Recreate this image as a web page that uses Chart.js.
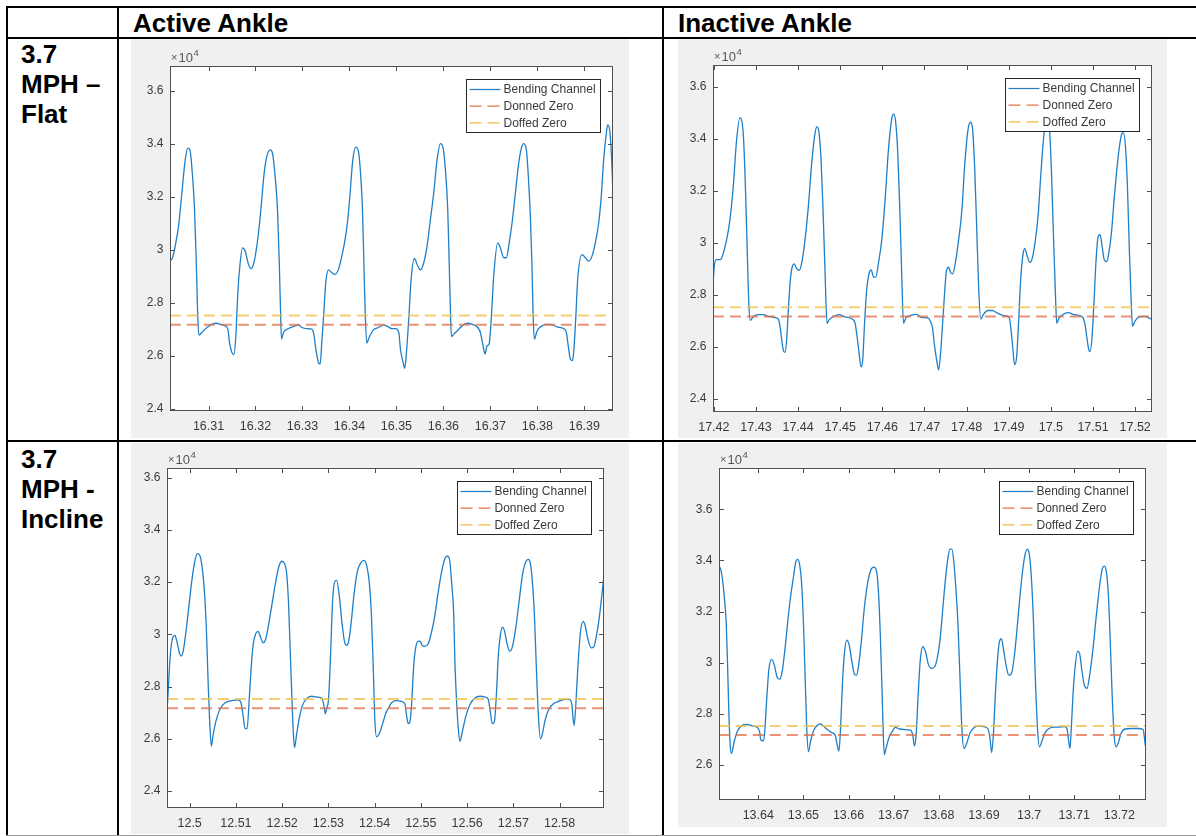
<!DOCTYPE html>
<html>
<head>
<meta charset="utf-8">
<script src="https://cdn.jsdelivr.net/npm/chart.js@4.4.1/dist/chart.umd.min.js"></script>
<style>
body { margin: 0; background: #fff; width: 1196px; height: 836px; position: relative; overflow: hidden; font-family: "Liberation Sans", Arial, sans-serif; }
.rule { position: absolute; background: #000; }
.cell { position: absolute; font-weight: bold; font-size: 26px; line-height: 30px; color: #000; white-space: nowrap; }
.fig { position: absolute; background: #f0f0f0; }
</style>
</head>
<body>
<div class="rule" style="left:6px;top:6px;width:1190px;height:2px"></div>
<div class="rule" style="left:6px;top:37px;width:1190px;height:2px"></div>
<div class="rule" style="left:6px;top:440px;width:1190px;height:2px"></div>
<div class="rule" style="left:6px;top:6px;width:2px;height:830px"></div>
<div class="rule" style="left:117px;top:6px;width:2px;height:830px"></div>
<div class="rule" style="left:662px;top:6px;width:2px;height:830px"></div>
<div class="rule" style="left:6px;top:835px;width:1190px;height:1px;background:#999"></div>

<div class="cell" style="left:133px;top:8px">Active Ankle</div>
<div class="cell" style="left:678px;top:8px">Inactive Ankle</div>
<div class="cell" style="left:21px;top:39px">3.7<br>MPH –<br>Flat</div>
<div class="cell" style="left:21px;top:444px">3.7<br>MPH -<br>Incline</div>

<canvas id="c1" class="fig" width="498" height="399" style="left:131px;top:39px"></canvas>
<canvas id="c2" class="fig" width="489" height="399" style="left:678px;top:39px"></canvas>
<canvas id="c3" class="fig" width="498" height="391" style="left:131px;top:443px"></canvas>
<canvas id="c4" class="fig" width="489" height="384" style="left:678px;top:443px"></canvas>

<script>
// [time (s), bending channel reading]
const flatActive = [
  [16.30177, 29570], [16.30234, 29700], [16.30291, 30140], [16.30362, 30890], [16.30433, 32140],
  [16.30504, 33390], [16.30560, 33830], [16.30603, 33770], [16.30660, 32770], [16.30702, 31520],
  [16.30738, 29640], [16.30766, 27760], [16.30794, 26780], [16.30858, 26880], [16.30965, 27070],
  [16.31071, 27190], [16.31156, 27230], [16.31248, 27190], [16.31355, 27130], [16.31411, 27010],
  [16.31447, 26500], [16.31496, 26130], [16.31539, 26050], [16.31582, 26750], [16.31624, 28380],
  [16.31667, 29390], [16.31723, 30070], [16.31780, 29950], [16.31851, 29450], [16.31908, 29290],
  [16.31957, 29450], [16.32007, 29890], [16.32064, 30640], [16.32121, 31640], [16.32177, 32770],
  [16.32241, 33520], [16.32312, 33770], [16.32362, 33640], [16.32418, 32770], [16.32468, 31520],
  [16.32504, 29640], [16.32532, 27760], [16.32553, 26630], [16.32596, 26880], [16.32702, 27030],
  [16.32844, 27130], [16.32915, 27160], [16.32986, 27070], [16.33092, 27030], [16.33199, 27010],
  [16.33248, 26750], [16.33284, 26250], [16.33340, 25750], [16.33376, 25690], [16.33411, 26500],
  [16.33454, 27630], [16.33496, 28760], [16.33553, 29240], [16.33624, 29140], [16.33695, 29070],
  [16.33766, 29260], [16.33837, 29760], [16.33908, 30390], [16.33964, 31140], [16.34014, 32140],
  [16.34071, 33390], [16.34135, 33870], [16.34191, 33710], [16.34241, 32770], [16.34277, 31520],
  [16.34305, 29640], [16.34333, 27760], [16.34369, 26480], [16.34418, 26690], [16.34511, 26980],
  [16.34617, 27070], [16.34723, 27160], [16.34794, 27130], [16.34901, 27030], [16.34979, 27030],
  [16.35050, 26880], [16.35085, 26250], [16.35142, 25750], [16.35177, 25530], [16.35213, 26130],
  [16.35262, 27380], [16.35312, 28880], [16.35383, 29670], [16.35454, 29390], [16.35511, 29240],
  [16.35582, 29510], [16.35652, 30140], [16.35723, 31140], [16.35794, 32140], [16.35865, 33390],
  [16.35936, 34000], [16.35993, 33830], [16.36043, 33020], [16.36092, 31520], [16.36121, 29640],
  [16.36149, 27760], [16.36170, 26730], [16.36220, 26820], [16.36291, 26940], [16.36397, 27130],
  [16.36504, 27230], [16.36610, 27190], [16.36730, 27070], [16.36787, 26880], [16.36844, 26380],
  [16.36887, 26070], [16.36929, 26380], [16.36972, 26440], [16.37014, 27260], [16.37071, 29010],
  [16.37156, 30260], [16.37213, 30070], [16.37284, 29700], [16.37340, 29700], [16.37390, 30140],
  [16.37461, 31010], [16.37532, 32140], [16.37603, 33270], [16.37660, 33830], [16.37709, 34000],
  [16.37766, 33770], [16.37808, 32770], [16.37851, 31260], [16.37886, 29390], [16.37908, 27630],
  [16.37936, 26630], [16.37993, 26940], [16.38099, 27130], [16.38206, 27190], [16.38312, 27180],
  [16.38418, 27090], [16.38560, 27030], [16.38617, 26880], [16.38667, 26250], [16.38702, 25880],
  [16.38745, 25820], [16.38773, 26130], [16.38816, 27380], [16.38858, 28880], [16.38950, 29820],
  [16.39021, 29700], [16.39092, 29570], [16.39163, 29760], [16.39234, 30260], [16.39305, 31010],
  [16.39355, 31890], [16.39411, 33390], [16.39468, 34400], [16.39496, 34710], [16.39539, 34520],
  [16.39567, 33900], [16.39596, 32770], [16.39624, 31010]
];

const flatInactive = [
  [17.41978, 28320], [17.42010, 29090], [17.42058, 29350], [17.42121, 29350], [17.42169, 29370],
  [17.42224, 29600], [17.42303, 30110], [17.42382, 30880], [17.42461, 32160], [17.42540, 33950],
  [17.42620, 34810], [17.42659, 34720], [17.42707, 33950], [17.42754, 31910], [17.42794, 29600],
  [17.42834, 27550], [17.42865, 27020], [17.42937, 27170], [17.43055, 27240], [17.43174, 27240],
  [17.43293, 27170], [17.43451, 27130], [17.43531, 27070], [17.43571, 26790], [17.43610, 26280],
  [17.43657, 25830], [17.43689, 25790], [17.43729, 26280], [17.43768, 27430], [17.43816, 28580],
  [17.43863, 29090], [17.43911, 29190], [17.43958, 29030], [17.44022, 28940], [17.44085, 29220],
  [17.44164, 30110], [17.44243, 31390], [17.44323, 33060], [17.44402, 34210], [17.44449, 34460],
  [17.44497, 34210], [17.44545, 33180], [17.44592, 31270], [17.44640, 28830], [17.44687, 26910],
  [17.44735, 27040], [17.44838, 27170], [17.44972, 27240], [17.45115, 27150], [17.45289, 27070],
  [17.45352, 26910], [17.45400, 26400], [17.45447, 25760], [17.45495, 25230], [17.45534, 25510],
  [17.45574, 26790], [17.45622, 28070], [17.45685, 28830], [17.45732, 28960], [17.45796, 28680],
  [17.45843, 28680], [17.45907, 29220], [17.45986, 30110], [17.46065, 31650], [17.46144, 33570],
  [17.46224, 34780], [17.46271, 34940], [17.46319, 34590], [17.46366, 33440], [17.46414, 31270],
  [17.46461, 28710], [17.46501, 26910], [17.46557, 27110], [17.46659, 27200], [17.46817, 27250],
  [17.46936, 27130], [17.47094, 27110], [17.47158, 26910], [17.47184, 26790], [17.47240, 26020],
  [17.47287, 25510], [17.47335, 25120], [17.47382, 25760], [17.47430, 26910], [17.47477, 28070],
  [17.47525, 28960], [17.47572, 29060], [17.47620, 28860], [17.47667, 28810], [17.47731, 29220],
  [17.47810, 30110], [17.47889, 31270], [17.47952, 32930], [17.48032, 34340], [17.48095, 34630],
  [17.48143, 34340], [17.48190, 32930], [17.48238, 30630], [17.48285, 28320], [17.48333, 27070],
  [17.48396, 27240], [17.48507, 27400], [17.48610, 27400], [17.48729, 27300], [17.48887, 27200],
  [17.49006, 27150], [17.49045, 26790], [17.49085, 26150], [17.49140, 25310], [17.49188, 25630],
  [17.49236, 27040], [17.49283, 28580], [17.49331, 29470], [17.49378, 29780], [17.49441, 29470],
  [17.49505, 29240], [17.49568, 29470], [17.49632, 30110], [17.49695, 31010], [17.49758, 32540],
  [17.49822, 33950], [17.49877, 34720], [17.49925, 34850], [17.49964, 34460], [17.50012, 32800],
  [17.50059, 30370], [17.50107, 28070], [17.50138, 26910], [17.50194, 27110], [17.50313, 27270],
  [17.50408, 27320], [17.50551, 27240], [17.50749, 27150], [17.50804, 26910], [17.50851, 26400],
  [17.50899, 25890], [17.50930, 25820], [17.50978, 26400], [17.51026, 27810], [17.51073, 29350],
  [17.51121, 30240], [17.51168, 30310], [17.51216, 29860], [17.51263, 29370], [17.51326, 29280],
  [17.51374, 29600], [17.51437, 30370], [17.51500, 31650], [17.51564, 32800], [17.51627, 33700],
  [17.51690, 34210], [17.51722, 34230], [17.51770, 33700], [17.51817, 32160], [17.51865, 29600],
  [17.51905, 27810], [17.51936, 26790], [17.51992, 26980], [17.52095, 27150], [17.52213, 27170],
  [17.52332, 27110], [17.52419, 27040]
];

const inclineActive = [
  [12.49509, 26960], [12.49538, 27920], [12.49581, 29200], [12.49639, 29900], [12.49682, 29960],
  [12.49726, 29710], [12.49783, 29260], [12.49827, 29170], [12.49870, 29450], [12.49928, 30220],
  [12.49986, 31110], [12.50043, 32000], [12.50108, 32770], [12.50166, 33090], [12.50217, 33030],
  [12.50274, 32510], [12.50325, 31490], [12.50361, 30220], [12.50397, 28300], [12.50433, 26640],
  [12.50469, 25720], [12.50505, 26130], [12.50563, 26640], [12.50635, 27050], [12.50722, 27310],
  [12.50830, 27430], [12.50938, 27470], [12.51047, 27490], [12.51105, 27410], [12.51155, 26900],
  [12.51199, 26390], [12.51242, 26390], [12.51285, 27410], [12.51329, 28690], [12.51372, 29600],
  [12.51430, 30030], [12.51480, 30110], [12.51531, 29900], [12.51588, 29670], [12.51646, 29830],
  [12.51704, 30340], [12.51776, 31110], [12.51848, 31880], [12.51920, 32540], [12.51993, 32800],
  [12.52050, 32710], [12.52094, 32390], [12.52137, 31240], [12.52173, 29450], [12.52209, 27660],
  [12.52245, 26130], [12.52267, 25660], [12.52310, 26130], [12.52368, 26770], [12.52440, 27280],
  [12.52527, 27540], [12.52635, 27630], [12.52744, 27600], [12.52852, 27560], [12.52903, 27280],
  [12.52932, 26960], [12.52960, 27150], [12.53004, 27540], [12.53047, 29200], [12.53090, 31240],
  [12.53134, 32000], [12.53177, 32070], [12.53235, 31490], [12.53292, 30470], [12.53350, 29710],
  [12.53393, 29580], [12.53437, 29710], [12.53494, 30470], [12.53552, 31490], [12.53624, 32390],
  [12.53697, 32730], [12.53769, 32830], [12.53827, 32640], [12.53884, 32000], [12.53928, 30860],
  [12.53971, 28690], [12.54007, 26640], [12.54043, 26070], [12.54101, 26200], [12.54173, 26580],
  [12.54245, 27000], [12.54292, 27150], [12.54365, 27380], [12.54473, 27460], [12.54581, 27430],
  [12.54653, 27340], [12.54690, 26900], [12.54726, 26580], [12.54762, 26640], [12.54798, 27280],
  [12.54841, 28690], [12.54884, 29450], [12.54942, 29740], [12.54986, 29730], [12.55029, 29580],
  [12.55087, 29540], [12.55159, 29640], [12.55231, 30090], [12.55303, 30730], [12.55375, 31620],
  [12.55448, 32390], [12.55520, 32900], [12.55578, 33000], [12.55628, 32770], [12.55664, 32000],
  [12.55708, 30860], [12.55736, 28940], [12.55773, 27410], [12.55809, 26390], [12.55845, 25900],
  [12.55895, 26260], [12.55967, 26830], [12.56061, 27310], [12.56170, 27560], [12.56278, 27630],
  [12.56386, 27600], [12.56458, 27510], [12.56502, 27030], [12.56545, 26580], [12.56588, 26640],
  [12.56632, 27660], [12.56675, 29200], [12.56718, 29960], [12.56762, 30280], [12.56805, 30150],
  [12.56863, 29640], [12.56921, 29350], [12.56978, 29520], [12.57050, 30220], [12.57123, 31240],
  [12.57195, 32260], [12.57267, 32770], [12.57325, 32870], [12.57368, 32710], [12.57412, 32000],
  [12.57455, 30730], [12.57498, 28690], [12.57541, 26900], [12.57585, 26000], [12.57628, 26200],
  [12.57686, 26710], [12.57772, 27150], [12.57866, 27340], [12.57974, 27430], [12.58083, 27500],
  [12.58206, 27510], [12.58263, 27340], [12.58292, 26770], [12.58314, 26510], [12.58350, 27280],
  [12.58393, 28690], [12.58451, 30090], [12.58509, 30500], [12.58552, 30340], [12.58610, 29830],
  [12.58682, 29480], [12.58740, 29520], [12.58798, 29960], [12.58855, 30600], [12.58913, 31490],
  [12.58957, 32200]
];

const inclineInactive = [
  [13.63126, 33740], [13.63155, 33710], [13.63200, 33350], [13.63244, 32640], [13.63289, 31590],
  [13.63318, 30030], [13.63348, 28070], [13.63378, 26770], [13.63407, 26440], [13.63466, 26900],
  [13.63540, 27320], [13.63629, 27530], [13.63741, 27580], [13.63852, 27530], [13.63985, 27450],
  [13.64030, 27290], [13.64059, 26950], [13.64119, 26950], [13.64148, 27420], [13.64193, 28730],
  [13.64237, 29770], [13.64296, 30130], [13.64356, 29900], [13.64415, 29440], [13.64474, 29350],
  [13.64534, 29700], [13.64593, 30550], [13.64652, 31590], [13.64711, 32510], [13.64785, 33420],
  [13.64830, 33940], [13.64874, 34040], [13.64919, 33810], [13.64963, 33030], [13.65000, 31590],
  [13.65037, 29510], [13.65074, 27420], [13.65111, 26510], [13.65156, 26900], [13.65223, 27320],
  [13.65297, 27530], [13.65378, 27600], [13.65482, 27450], [13.65630, 27260], [13.65704, 27160],
  [13.65749, 26770], [13.65786, 26530], [13.65823, 27420], [13.65867, 29250], [13.65912, 30420],
  [13.65964, 30880], [13.66015, 30680], [13.66075, 30030], [13.66134, 29530], [13.66178, 29510],
  [13.66223, 29900], [13.66282, 30810], [13.66341, 31980], [13.66415, 33030], [13.66489, 33610],
  [13.66563, 33740], [13.66623, 33550], [13.66667, 32640], [13.66704, 31070], [13.66741, 28990],
  [13.66770, 27160], [13.66793, 26400], [13.66830, 26640], [13.66889, 27030], [13.66963, 27290],
  [13.67037, 27460], [13.67126, 27400], [13.67222, 27380], [13.67371, 27360], [13.67423, 27160],
  [13.67460, 26740], [13.67497, 27160], [13.67542, 28730], [13.67586, 30030], [13.67645, 30620],
  [13.67705, 30420], [13.67764, 29960], [13.67838, 29770], [13.67918, 29870], [13.67963, 30160],
  [13.68022, 30810], [13.68082, 31980], [13.68141, 33160], [13.68200, 34070], [13.68245, 34440],
  [13.68289, 34440], [13.68333, 33940], [13.68378, 32900], [13.68422, 31590], [13.68467, 29510],
  [13.68511, 27420], [13.68556, 26640], [13.68615, 26830], [13.68689, 27230], [13.68778, 27450],
  [13.68889, 27510], [13.69000, 27490], [13.69089, 27400], [13.69134, 27030], [13.69171, 26480],
  [13.69208, 27160], [13.69252, 28730], [13.69297, 30030], [13.69341, 30810], [13.69386, 30940],
  [13.69430, 30550], [13.69490, 29900], [13.69549, 29510], [13.69608, 29570], [13.69667, 30160],
  [13.69727, 31200], [13.69786, 32380], [13.69845, 33420], [13.69904, 34170], [13.69964, 34440],
  [13.70008, 34200], [13.70052, 33290], [13.70097, 31590], [13.70141, 29250], [13.70186, 27420],
  [13.70230, 26700], [13.70290, 26960], [13.70364, 27290], [13.70453, 27430], [13.70556, 27470],
  [13.70675, 27470], [13.70779, 27490], [13.70838, 27420], [13.70875, 26960], [13.70905, 26640],
  [13.70935, 27420], [13.70972, 28730], [13.71016, 29770], [13.71075, 30450], [13.71120, 30350],
  [13.71164, 29770], [13.71223, 29120], [13.71283, 28990], [13.71342, 29510], [13.71416, 30550],
  [13.71490, 31850], [13.71564, 33030], [13.71623, 33680], [13.71668, 33780], [13.71712, 33550],
  [13.71757, 32640], [13.71801, 30680], [13.71846, 28460], [13.71890, 27030], [13.71927, 26700],
  [13.71979, 26870], [13.72038, 27230], [13.72127, 27400], [13.72261, 27420], [13.72409, 27420],
  [13.72528, 27380], [13.72557, 27030], [13.72580, 26700], [13.72616, 27420]
];

const donnedZero = 27170;
const doffedZero = 27520;

const legendLabels = ['Bending Channel', 'Donned Zero', 'Doffed Zero'];

const flatActiveXTicks = [16.31, 16.32, 16.33, 16.34, 16.35, 16.36, 16.37, 16.38, 16.39];
const flatInactiveXTicks = [17.42, 17.43, 17.44, 17.45, 17.46, 17.47, 17.48, 17.49, 17.50, 17.51, 17.52];
const inclineActiveXTicks = [12.50, 12.51, 12.52, 12.53, 12.54, 12.55, 12.56, 12.57, 12.58];
const inclineInactiveXTicks = [13.64, 13.65, 13.66, 13.67, 13.68, 13.69, 13.70, 13.71, 13.72];
const yTicksFrom24 = [24000, 26000, 28000, 30000, 32000, 34000, 36000];
const yTicksFrom26 = [26000, 28000, 30000, 32000, 34000, 36000];

const FONT = '"Liberation Sans", Arial, Helvetica, sans-serif';
const TEXT = '#3a3a3a';
const AXIS = '#505050';
const BLUE = '#1f7fc8';
const lineColors = [BLUE, 'rgba(226,110,72,0.75)', 'rgba(240,190,70,0.75)'];
const legendColors = [BLUE, '#e4744c', '#efbb40'];

// MATLAB look: white box, inward ticks on all sides, opaque legend, x10^4 note
const matlabAxes = {
  id: 'matlabAxes',
  beforeDraw(chart) {
    const { ctx, chartArea: a } = chart;
    ctx.save();
    ctx.fillStyle = '#fff';
    ctx.fillRect(a.left, a.top, a.right - a.left, a.bottom - a.top);
    ctx.restore();
  },
  afterDraw(chart) {
    const { ctx, chartArea: a, scales } = chart;
    const L = Math.round(a.left) + 0.5, R = Math.round(a.right) - 0.5;
    const T = Math.round(a.top) + 0.5, B = Math.round(a.bottom) - 0.5;
    ctx.save();

    // legend
    ctx.font = '12px ' + FONT;
    const w = Math.round(ctx.measureText(legendLabels[0]).width + 42);
    const h = 53;
    const lx = Math.round(a.right - 13 - w) + 0.5, ly = Math.round(a.top + 13) + 0.5;
    ctx.fillStyle = '#fff';
    ctx.fillRect(lx, ly, w, h);
    ctx.strokeStyle = '#262626';
    ctx.lineWidth = 1;
    ctx.strokeRect(lx, ly, w, h);
    legendLabels.forEach((label, i) => {
      const y = ly + 10 + i * 16.7;
      ctx.beginPath();
      ctx.setLineDash(i ? [12, 6] : []);
      ctx.strokeStyle = legendColors[i];
      ctx.lineWidth = 1.2;
      ctx.moveTo(lx + 3, y);
      ctx.lineTo(lx + 34, y);
      ctx.stroke();
      ctx.setLineDash([]);
      ctx.fillStyle = TEXT;
      ctx.textAlign = 'left';
      ctx.textBaseline = 'middle';
      ctx.fillText(label, lx + 37, y + 0.5);
    });

    // box + ticks
    ctx.strokeStyle = AXIS;
    ctx.lineWidth = 1;
    ctx.strokeRect(L, T, R - L, B - T);
    const tl = 4.5;
    ctx.beginPath();
    scales.x.ticks.forEach(t => {
      const x = Math.round(scales.x.getPixelForValue(t.value)) + 0.5;
      ctx.moveTo(x, B); ctx.lineTo(x, B - tl);
      ctx.moveTo(x, T); ctx.lineTo(x, T + tl);
    });
    scales.y.ticks.forEach(t => {
      const y = Math.round(scales.y.getPixelForValue(t.value)) + 0.5;
      ctx.moveTo(L, y); ctx.lineTo(L + tl, y);
      ctx.moveTo(R, y); ctx.lineTo(R - tl, y);
    });
    ctx.stroke();

    // x10^4
    ctx.fillStyle = '#555';
    ctx.textAlign = 'left';
    ctx.textBaseline = 'alphabetic';
    let x = a.left + 1;
    const by = a.top - 4;
    ctx.font = '11px ' + FONT;
    ctx.fillText('\u00d7', x, by - 1);
    x += ctx.measureText('\u00d7').width + 1;
    ctx.font = '13px ' + FONT;
    ctx.fillText('10', x, by);
    x += ctx.measureText('10').width + 0.5;
    ctx.font = '9.5px ' + FONT;
    ctx.fillText('4', x, by - 6.5);
    ctx.restore();
  }
};

function makeChart(id, series, xTicks, yTicks, xMin, xMax, yMin, yMax, inset) {
  const first = series[0][0], last = series[series.length - 1][0];
  return new Chart(document.getElementById(id), {
    type: 'line',
    data: {
      datasets: [
        {
          label: legendLabels[0],
          data: series.map(p => ({ x: p[0], y: p[1] })),
          borderColor: lineColors[0], borderWidth: 1.3, pointRadius: 0,
          cubicInterpolationMode: 'monotone', order: 3
        },
        {
          label: legendLabels[1],
          data: [{ x: first, y: donnedZero }, { x: last, y: donnedZero }],
          borderColor: lineColors[1], borderWidth: 2, borderDash: [11, 6], pointRadius: 0, order: 2
        },
        {
          label: legendLabels[2],
          data: [{ x: first, y: doffedZero }, { x: last, y: doffedZero }],
          borderColor: lineColors[2], borderWidth: 2, borderDash: [11, 6], pointRadius: 0, order: 1
        }
      ]
    },
    options: {
      responsive: false,
      animation: false,
      events: [],
      layout: { padding: { left: 0, top: inset.top, right: inset.right, bottom: 0 } },
      plugins: { legend: { display: false }, tooltip: { enabled: false } },
      scales: {
        x: {
          type: 'linear', min: xMin, max: xMax,
          grid: { display: false, drawTicks: false },
          border: { display: false },
          afterBuildTicks: axis => { axis.ticks = xTicks.map(v => ({ value: v })); },
          afterFit: s => {
            s.height = inset.bottom;
            s.paddingLeft = s.paddingRight = s.paddingTop = s.paddingBottom = 0;
          },
          ticks: {
            padding: 8.5, maxRotation: 0, autoSkip: false, color: TEXT,
            font: { family: FONT, size: 12.5 },
            callback: v => String(Math.round(v * 100) / 100)
          }
        },
        y: {
          type: 'linear', min: yMin, max: yMax,
          grid: { display: false, drawTicks: false },
          border: { display: false },
          afterBuildTicks: axis => { axis.ticks = yTicks.map(v => ({ value: v })); },
          afterFit: s => {
            s.width = inset.left;
            s.paddingLeft = s.paddingRight = s.paddingTop = s.paddingBottom = 0;
          },
          ticks: {
            padding: 6.5, color: TEXT,
            font: { family: FONT, size: 12 },
            callback: v => String(Math.round(v / 1000) / 10)
          }
        }
      }
    },
    plugins: [matlabAxes]
  });
}

makeChart('c1', flatActive, flatActiveXTicks, yTicksFrom24, 16.3018, 16.3961, 23920, 36930,
  { left: 39, top: 27, right: 16, bottom: 27 });
makeChart('c2', flatInactive, flatInactiveXTicks, yTicksFrom24, 17.4198, 17.5240, 23500, 36830,
  { left: 35, top: 26, right: 15, bottom: 26 });
makeChart('c3', inclineActive, inclineActiveXTicks, yTicksFrom24, 12.4951, 12.5896, 23350, 36370,
  { left: 36, top: 25, right: 25, bottom: 26 });
makeChart('c4', inclineInactive, inclineInactiveXTicks, yTicksFrom26, 13.6313, 13.7259, 24620, 37620,
  { left: 41, top: 25, right: 21, bottom: 27 });
</script>
</body>
</html>
